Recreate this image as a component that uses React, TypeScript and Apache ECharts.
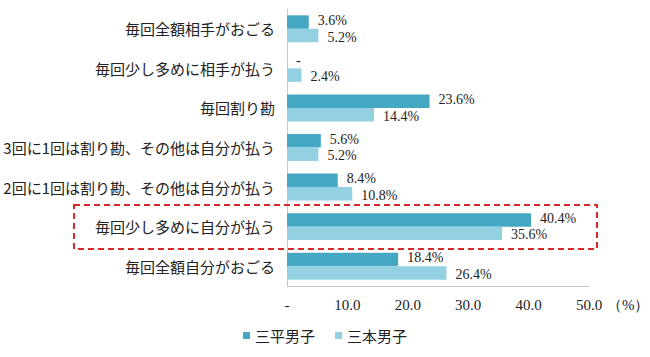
import React, { useEffect, useRef } from "react";
import * as echarts from "echarts";

const categories = [
  "毎回全額相手がおごる",
  "毎回少し多めに相手が払う",
  "毎回割り勘",
  "3回に1回は割り勘、その他は自分が払う",
  "2回に1回は割り勘、その他は自分が払う",
  "毎回少し多めに自分が払う",
  "毎回全額自分がおごる",
];
const seriesNames = ["三平男子", "三本男子"];
const sanpei = [3.6, 0, 23.6, 5.6, 8.4, 40.4, 18.4];
const sanbon = [5.2, 2.4, 14.4, 5.2, 10.8, 35.6, 26.4];
const xTicks = [0, 10, 20, 30, 40, 50];

const serif = "'Liberation Serif', 'Times New Roman', serif";
const jp = "'Noto Sans CJK JP', sans-serif";

export default function App() {
  const ref = useRef<HTMLDivElement>(null);
  useEffect(() => {
    if (!ref.current) return;
    const chart = echarts.init(ref.current, undefined, { renderer: "svg" });
    const labelFmt = (p: any) => (p.value === 0 ? "-" : p.value.toFixed(1) + "%");
    const labelStyle = (dy: number) => ({
      show: true,
      position: "right",
      distance: 9,
      offset: [0, dy],
      formatter: labelFmt,
      fontFamily: serif,
      fontSize: 14,
      lineHeight: 12,
      color: "#222",
    });
    chart.setOption({
      animation: false,
      backgroundColor: "#ffffff",
      grid: {
        left: 287,
        right: 61,
        top: 9,
        bottom: 71,
        containLabel: false,
        outerBoundsMode: "none",
      },
      legend: {
        data: seriesNames,
        bottom: 9,
        left: "center",
        itemWidth: 7,
        itemHeight: 7,
        itemGap: 20,
        icon: "rect",
        textStyle: { fontFamily: jp, fontSize: 15, color: "#222" },
      },
      xAxis: {
        type: "value",
        min: xTicks[0],
        max: xTicks[xTicks.length - 1],
        interval: 10,
        splitLine: { show: false },
        axisLine: { show: true, lineStyle: { color: "#c8c8c8", width: 1 } },
        axisTick: { show: false },
        axisLabel: {
          margin: 11,
          fontFamily: serif,
          fontSize: 15,
          color: "#222",
          formatter: (v: number) => (v === 0 ? "-" : v.toFixed(1)),
        },
      },
      yAxis: {
        type: "category",
        data: categories,
        inverse: true,
        axisLine: { show: true, lineStyle: { color: "#c8c8c8", width: 1 } },
        axisTick: { show: false },
        axisLabel: { margin: 12, fontFamily: jp, fontSize: 15, color: "#222" },
      },
      series: [
        {
          name: seriesNames[0],
          type: "bar",
          data: sanpei,
          barGap: "0%",
          barCategoryGap: "32%",
          itemStyle: { color: "#45a8c3" },
          label: labelStyle(-1.5),
        },
        {
          name: seriesNames[1],
          type: "bar",
          data: sanbon,
          barGap: "0%",
          barCategoryGap: "32%",
          itemStyle: { color: "#93d0e1" },
          label: labelStyle(1.5),
        },
      ],
      graphic: [
        {
          type: "text",
          left: 607,
          top: 297,
          style: { text: "（%）", font: "15px " + serif, fill: "#222" },
        },
        {
          type: "rect",
          shape: { x: 74, y: 205, width: 523, height: 44 },
          style: { fill: "none", stroke: "#d62a2a", lineWidth: 2, lineDash: [6, 4] },
          z: 100,
        },
      ],
    });
    return () => chart.dispose();
  }, []);
  return <div ref={ref} style={{ width: 650, height: 357, position: "absolute", left: 0, top: 0 }} />;
}
